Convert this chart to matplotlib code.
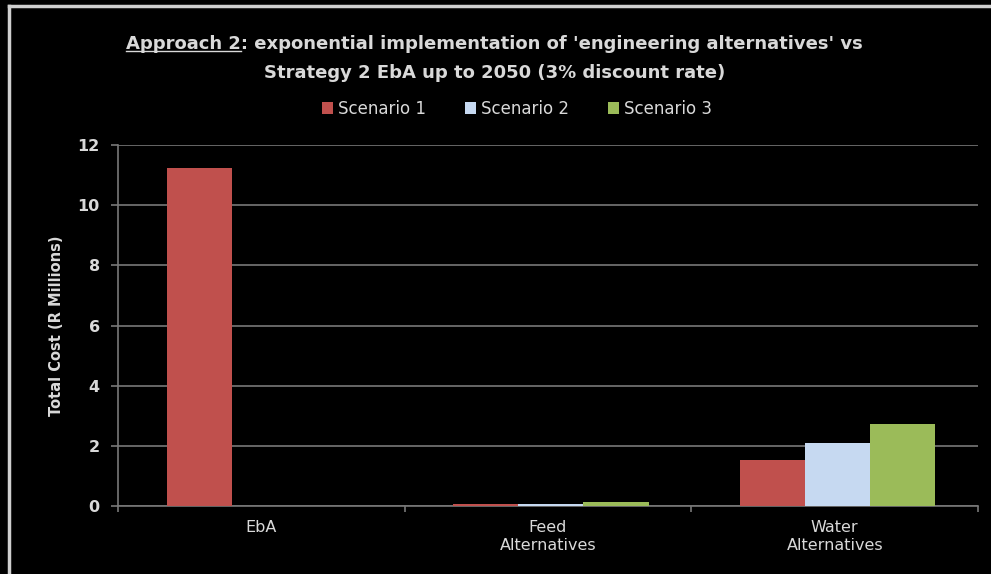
import numpy as np
import matplotlib.pyplot as plt
from matplotlib.lines import Line2D

categories = ['EbA', 'Feed\nAlternatives', 'Water\nAlternatives']
series_names = ['Scenario 1', 'Scenario 2', 'Scenario 3']
scenario1 = [11.25, 0.05, 1.52]
scenario2 = [0.0, 0.07, 2.08]
scenario3 = [0.0, 0.12, 2.72]
y_ticks = [0, 2, 4, 6, 8, 10, 12]

colors = ['#C0504D', '#C6D9F1', '#9BBB59']
fg = '#d9d9d9'
grid_col = '#777777'

plt.rcParams['font.family'] = ['DejaVu Sans']

fig = plt.figure(figsize=(9.91, 5.74), dpi=100, facecolor='black')
ax = fig.add_axes([0.119, 0.1185, 0.868, 0.6285])
ax.set_facecolor('black')

# frame of the chart area (only top and left visible)
fig.add_artist(Line2D([0.009, 1.0], [0.989, 0.989], transform=fig.transFigure,
                      color='#cfcfcf', lw=2.5))
fig.add_artist(Line2D([0.009, 0.009], [0.0, 0.989], transform=fig.transFigure,
                      color='#cfcfcf', lw=2.5))

x = np.arange(len(categories))
w = 0.227
for i, vals in enumerate([scenario1, scenario2, scenario3]):
    ax.bar(x + (i - 1) * w + 0.01, vals, width=w, color=colors[i],
           label=series_names[i], zorder=3)

ax.set_xlim(-0.5, 2.5)
ax.set_ylim(0, 12)
ax.set_yticks(y_ticks)
ax.yaxis.grid(True, color=grid_col, lw=1.2, zorder=0)
ax.set_xticks(x)
ax.set_xticklabels(categories, color=fg, fontsize=11.5, linespacing=1.25)
ax.set_xticks([-0.5, 0.5, 1.5, 2.5], minor=True)
ax.tick_params(axis='x', which='major', length=0, pad=10)
ax.tick_params(axis='x', which='minor', length=4, color=grid_col, width=1.2)
ax.tick_params(axis='y', length=5, color=grid_col, width=1.2, labelcolor=fg,
               labelsize=11.5, pad=8)
for lab in ax.get_yticklabels():
    lab.set_fontweight('bold')

for side in ['top', 'right']:
    ax.spines[side].set_visible(False)
ax.spines['left'].set_color(grid_col)
ax.spines['bottom'].set_color(grid_col)
ax.spines['left'].set_linewidth(1.2)
ax.spines['bottom'].set_linewidth(1.2)

ax.set_ylabel('Total Cost (R Millions)', color=fg, fontsize=10.5, fontweight='bold',
              labelpad=10)

# title, with the first part underlined
line1 = "Approach 2: exponential implementation of 'engineering alternatives' vs"
line2 = "Strategy 2 EbA up to 2050 (3% discount rate)"
tfs = 13
tkw = dict(color=fg, fontsize=tfs, fontweight='bold', ha='center', va='center')
t1 = fig.text(0.499, 0.924, line1, **tkw)
fig.text(0.499, 0.873, line2, **tkw)

fig.canvas.draw()
renderer = fig.canvas.get_renderer()
bb = t1.get_window_extent(renderer)
tmp = fig.text(0, 0, 'Approach 2', color=fg, fontsize=tfs, fontweight='bold')
wpart = tmp.get_window_extent(renderer).width
tmp.remove()
fw, fh = fig.bbox.width, fig.bbox.height
uy = bb.y0 / fh + 0.003
fig.add_artist(Line2D([bb.x0 / fw, (bb.x0 + wpart) / fw], [uy, uy],
                      transform=fig.transFigure, color=fg, lw=1.0))

leg = ax.legend(loc='lower center', bbox_to_anchor=(0.464, 1.035), ncol=3,
                frameon=False, fontsize=12, handlelength=0.7, handleheight=0.7,
                handletextpad=0.3, columnspacing=2.3)
for txt in leg.get_texts():
    txt.set_color(fg)

fig.savefig('out.png', dpi=100, facecolor='black')
